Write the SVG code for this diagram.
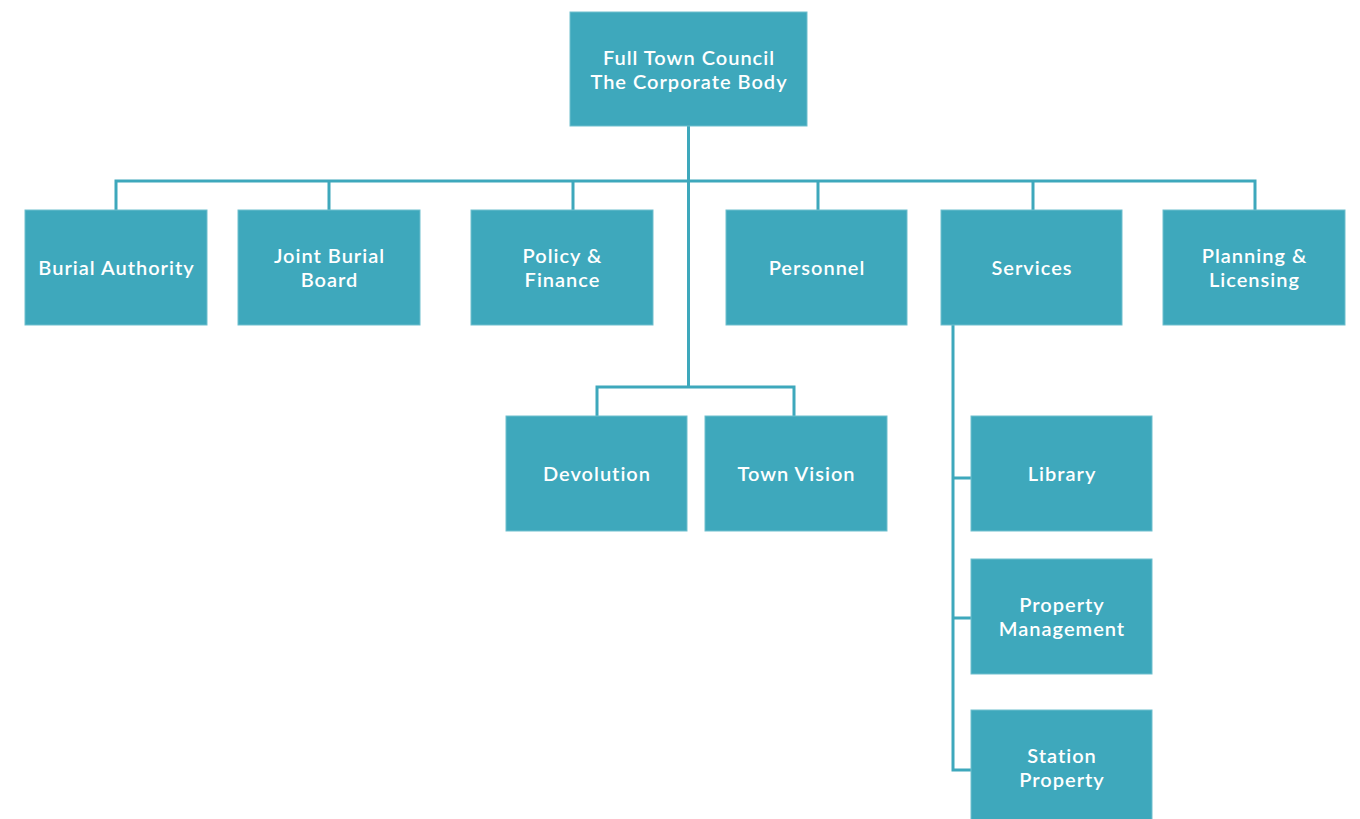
<svg xmlns="http://www.w3.org/2000/svg" width="1360" height="819" viewBox="0 0 1360 819">
<style>
.box{fill:#3ea8bc;stroke:#6fbfce;stroke-width:1}
.t{font-family:Lato,"Open Sans",sans-serif;font-weight:600;font-size:20px;letter-spacing:1px;fill:#ffffff;text-anchor:middle}
.c{fill:none;stroke:#3ea8bc;stroke-width:3}
</style>
<rect width="1360" height="819" fill="#ffffff"/>
<g id="connectors">
<path class="c" d="M688.5 126V387"/>
<path class="c" d="M116 211V181H1255V211"/>
<path class="c" d="M329 181V211M573 181V211M818 181V211M1033 181V211"/>
<path class="c" d="M597 417V387H794V417"/>
<path class="c" d="M953 325V770H972M953 478H972M953 618H972"/>
</g>
<g id="n-council"><rect class="box" x="570" y="12" width="237" height="114"/><text class="t" x="689" y="65">Full Town Council</text><text class="t" x="689" y="89">The Corporate Body</text></g>
<g id="n-burial"><rect class="box" x="25" y="210" width="182" height="115"/><text class="t" x="116.5" y="275">Burial Authority</text></g>
<g id="n-joint"><rect class="box" x="238" y="210" width="182" height="115"/><text class="t" x="329.5" y="263">Joint Burial</text><text class="t" x="329.5" y="287">Board</text></g>
<g id="n-policy"><rect class="box" x="471" y="210" width="182" height="115"/><text class="t" x="562.5" y="263">Policy &amp;</text><text class="t" x="562.5" y="287">Finance</text></g>
<g id="n-personnel"><rect class="box" x="726" y="210" width="181" height="115"/><text class="t" x="817" y="275">Personnel</text></g>
<g id="n-services"><rect class="box" x="941" y="210" width="181" height="115"/><text class="t" x="1032" y="275">Services</text></g>
<g id="n-planning"><rect class="box" x="1163" y="210" width="182" height="115"/><text class="t" x="1254.5" y="263">Planning &amp;</text><text class="t" x="1254.5" y="287">Licensing</text></g>
<g id="n-devolution"><rect class="box" x="506" y="416" width="181" height="115"/><text class="t" x="597" y="481">Devolution</text></g>
<g id="n-townvision"><rect class="box" x="705" y="416" width="182" height="115"/><text class="t" x="796.5" y="481">Town Vision</text></g>
<g id="n-library"><rect class="box" x="971" y="416" width="181" height="115"/><text class="t" x="1062" y="481">Library</text></g>
<g id="n-property"><rect class="box" x="971" y="559" width="181" height="115"/><text class="t" x="1062" y="612">Property</text><text class="t" x="1062" y="636">Management</text></g>
<g id="n-station"><rect class="box" x="971" y="710" width="181" height="115"/><text class="t" x="1062" y="763">Station</text><text class="t" x="1062" y="787">Property</text></g>
</svg>
